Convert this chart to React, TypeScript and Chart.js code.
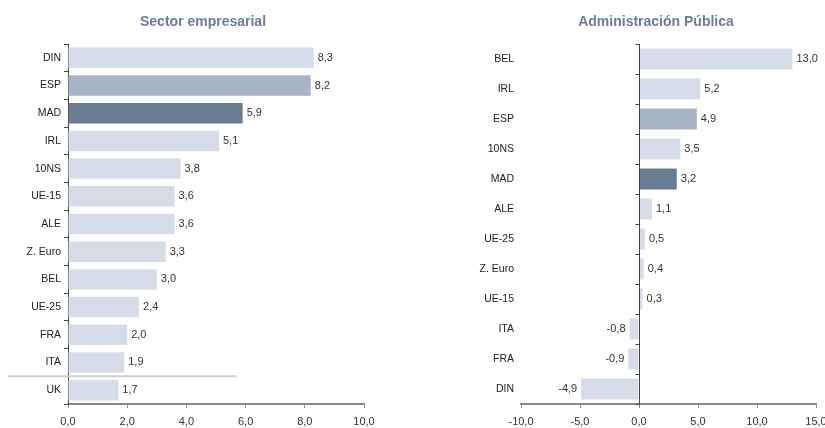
import React, { useEffect, useRef } from "react";
import { Chart, registerables } from "chart.js";

Chart.register(...registerables);

const leftTitle = "Sector empresarial";
const leftCategories = ["DIN", "ESP", "MAD", "IRL", "10NS", "UE-15", "ALE", "Z. Euro", "BEL", "UE-25", "FRA", "ITA", "UK"];
const leftValues = [8.3, 8.2, 5.9, 5.1, 3.8, 3.6, 3.6, 3.3, 3.0, 2.4, 2.0, 1.9, 1.7];

const rightTitle = "Administración Pública";
const rightCategories = ["BEL", "IRL", "ESP", "10NS", "MAD", "ALE", "UE-25", "Z. Euro", "UE-15", "ITA", "FRA", "DIN"];
const rightValues = [13.0, 5.2, 4.9, 3.5, 3.2, 1.1, 0.5, 0.4, 0.3, -0.8, -0.9, -4.9];

const FONT = "'Liberation Sans', Arial, Helvetica, sans-serif";
const LIGHT = "#d6dde8";
const MID = "#a9b5c7";
const DARK = "#687c95";
const TITLE_COLOR = "#6a7e99";

const fmt = (v: number) => Number(v).toFixed(1).replace(".", ",");

function colorFor(cat: string) {
  if (cat === "ESP") return MID;
  if (cat === "MAD") return DARK;
  return LIGHT;
}

const valueLabels = {
  id: "valueLabels",
  afterDatasetsDraw(chart: any) {
    const ctx = chart.ctx;
    const meta = chart.getDatasetMeta(0);
    const data = chart.data.datasets[0].data as number[];
    ctx.save();
    ctx.font = `11px ${FONT}`;
    ctx.fillStyle = "#333333";
    ctx.textBaseline = "middle";
    meta.data.forEach((bar: any, i: number) => {
      const v = data[i];
      if (v >= 0) {
        ctx.textAlign = "left";
        ctx.fillText(fmt(v), bar.x + 4, bar.y);
      } else {
        ctx.textAlign = "right";
        ctx.fillText(fmt(v), bar.x - 4, bar.y);
      }
    });
    ctx.restore();
  },
};

const panelTitle = {
  id: "panelTitle",
  afterDraw(chart: any, _args: any, opts: any) {
    const ctx = chart.ctx;
    ctx.save();
    ctx.font = `bold 14px ${FONT}`;
    ctx.fillStyle = TITLE_COLOR;
    ctx.textAlign = "center";
    ctx.textBaseline = "middle";
    ctx.fillText(opts.text, opts.x, opts.y);
    ctx.restore();
  },
};

const separatorLine = {
  id: "separatorLine",
  afterDatasetsDraw(chart: any) {
    const ctx = chart.ctx;
    const y = chart.scales.y.getPixelForValue(leftCategories.length - 1.5);
    const x2 = chart.scales.x.getPixelForValue(5.7);
    ctx.save();
    ctx.strokeStyle = "#cfcfcf";
    ctx.lineWidth = 2;
    ctx.beginPath();
    ctx.moveTo(8, y);
    ctx.lineTo(x2, y);
    ctx.stroke();
    ctx.restore();
  },
};

const zeroAxis = {
  id: "zeroAxis",
  afterDatasetsDraw(chart: any) {
    const ctx = chart.ctx;
    const xs = chart.scales.x;
    const ys = chart.scales.y;
    const x0 = Math.round(xs.getPixelForValue(0)) + 0.5;
    const { top, bottom } = chart.chartArea;
    ctx.save();
    ctx.strokeStyle = "#444444";
    ctx.lineWidth = 1;
    ctx.beginPath();
    ctx.moveTo(x0, top);
    ctx.lineTo(x0, bottom);
    const n = chart.data.labels.length;
    for (let i = 0; i <= n; i++) {
      const y = Math.round(ys.getPixelForValue(i - 0.5)) + 0.5;
      ctx.moveTo(x0 - 4, y);
      ctx.lineTo(x0, y);
    }
    ctx.stroke();
    ctx.restore();
  },
};

function makeConfig(
  title: string,
  titleX: number,
  cats: string[],
  vals: number[],
  xmin: number,
  xmax: number,
  step: number,
  yWidth: number,
  padRight: number,
  isLeft: boolean
): any {
  return {
    type: "bar",
    data: {
      labels: cats,
      datasets: [
        {
          data: vals,
          backgroundColor: cats.map(colorFor),
          borderWidth: 0,
          categoryPercentage: 1,
          barPercentage: isLeft ? 0.74 : 0.7,
        },
      ],
    },
    plugins: isLeft ? [valueLabels, separatorLine, panelTitle] : [valueLabels, zeroAxis, panelTitle],
    options: {
      indexAxis: "y",
      responsive: false,
      animation: false,
      layout: { padding: { left: 0, right: padRight, top: 44, bottom: 0 } },
      plugins: {
        legend: { display: false },
        tooltip: { enabled: false },
        title: { display: false },
        panelTitle: { text: title, x: titleX, y: 22 },
      },
      scales: {
        x: {
          type: "linear",
          min: xmin,
          max: xmax,
          afterFit: (s: any) => {
            s.height = 24;
          },
          ticks: {
            stepSize: step,
            padding: 7,
            color: "#333333",
            font: { family: FONT, size: 11 },
            callback: (v: any) => fmt(Number(v)),
          },
          grid: {
            display: true,
            drawOnChartArea: false,
            tickLength: 4,
            color: "#8a8a8a",
            lineWidth: 1,
          },
          border: { display: true, color: "#8a8a8a", width: 2 },
        },
        y: {
          type: "category",
          afterFit: (s: any) => {
            s.width = yWidth;
          },
          ticks: {
            padding: isLeft ? 3 : 7,
            color: "#222222",
            font: { family: FONT, size: 10.5 },
          },
          grid: isLeft
            ? { display: true, drawOnChartArea: false, tickLength: 4, color: "#444444", offset: true }
            : { display: false, drawTicks: false, tickLength: 0 },
          border: isLeft ? { display: true, color: "#444444", width: 1 } : { display: false },
        },
      },
    },
  };
}

function ChartCanvas({ config, width, height }: { config: any; width: number; height: number }) {
  const ref = useRef<HTMLCanvasElement | null>(null);
  useEffect(() => {
    if (!ref.current) return;
    const chart = new Chart(ref.current, config);
    return () => chart.destroy();
  }, [config]);
  return <canvas ref={ref} width={width} height={height} style={{ width, height, display: "block" }} />;
}

const leftConfig = makeConfig(leftTitle, 203, leftCategories, leftValues, 0, 10, 2, 68, 42, true);
const rightConfig = makeConfig(rightTitle, 216, rightCategories, rightValues, -10, 15, 5, 81, 56, false);

export default function App() {
  return (
    <div
      style={{
        position: "fixed",
        left: 0,
        top: 0,
        width: 825,
        height: 428,
        overflow: "hidden",
        background: "#ffffff",
      }}
    >
      <div style={{ position: "absolute", left: 0, top: 0 }}>
        <ChartCanvas config={leftConfig} width={406} height={428} />
      </div>
      <div style={{ position: "absolute", left: 440, top: 0 }}>
        <ChartCanvas config={rightConfig} width={432} height={428} />
      </div>
    </div>
  );
}
